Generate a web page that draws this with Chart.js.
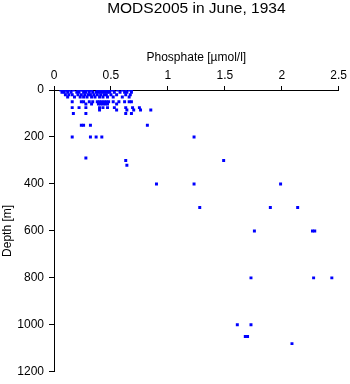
<!DOCTYPE html>
<html>
<head>
<meta charset="utf-8">
<script src="https://cdn.jsdelivr.net/npm/chart.js@4"></script>
<style>
  html, body { margin: 0; padding: 0; background: #fff; }
  #wrap { width: 350px; height: 384px; }
</style>
</head>
<body>
<div id="wrap"><canvas id="chart0" width="350" height="384"></canvas></div>
<script>
// depth levels [m] and the phosphate values [umol/l] read at each level
let depthLevels = [0, 10, 20, 30, 50, 60, 75, 85, 100, 150, 200, 290, 300, 320, 400, 500, 600, 800, 1000, 1050, 1080];
let phosphateByLevel = [
  [0.06, 0.08, 0.10, 0.12, 0.14, 0.17, 0.21, 0.23, 0.25, 0.27, 0.29, 0.31, 0.33, 0.38, 0.40, 0.42, 0.44, 0.46, 0.48, 0.50, 0.52, 0.56, 0.60, 0.63, 0.66, 0.68],
  [0.07, 0.09, 0.12, 0.15, 0.20, 0.22, 0.26, 0.28, 0.31, 0.34, 0.37, 0.39, 0.41, 0.43, 0.45, 0.47, 0.49, 0.53, 0.58, 0.62, 0.64, 0.68],
  [0.10, 0.13, 0.16, 0.21, 0.24, 0.27, 0.30, 0.32, 0.35, 0.38, 0.41, 0.44, 0.46, 0.50, 0.55, 0.63, 0.67],
  [0.12, 0.18, 0.23, 0.26, 0.29, 0.33, 0.36, 0.40, 0.43, 0.47, 0.52, 0.60, 0.66],
  [0.16, 0.24, 0.26, 0.31, 0.34, 0.38, 0.40, 0.42, 0.44, 0.46, 0.48, 0.52, 0.57, 0.62, 0.66, 0.68],
  [0.28, 0.33, 0.39, 0.41, 0.43, 0.45, 0.47, 0.55],
  [0.16, 0.22, 0.28, 0.40, 0.43, 0.47, 0.53, 0.63, 0.69, 0.75],
  [0.40, 0.55, 0.64, 0.70, 0.76, 0.85],
  [0.17, 0.28, 0.63, 0.68],
  [0.24, 0.26, 0.32, 0.82],
  [0.16, 0.32, 0.37, 0.42, 1.23],
  [0.28],
  [0.63, 1.49],
  [0.64],
  [0.90, 1.23, 1.99],
  [1.28, 1.90, 2.14],
  [1.76, 2.27, 2.29],
  [1.73, 2.28, 2.44],
  [1.61, 1.73],
  [1.68, 1.70],
  [2.09]
];
let xTicks = ["0", "0.5", "1", "1.5", "2", "2.5"];
let yTicks = ["0", "200", "400", "600", "800", "1000", "1200"];

let points = [];
depthLevels.forEach(function(d, i) {
  phosphateByLevel[i].forEach(function(p) {
    points.push({ x: p, y: d });
  });
});

let font = "'Liberation Sans', Arial, sans-serif";

// title centred over the plot area
let titlePlugin = {
  id: "plotTitle",
  afterDraw: function(chart) {
    let c = chart.ctx;
    let a = chart.chartArea;
    c.save();
    c.fillStyle = "#000";
    c.font = "15.5px " + font;
    c.textAlign = "center";
    c.textBaseline = "middle";
    c.fillText("MODS2005 in June, 1934", (a.left + a.right) / 2, 9);
    c.restore();
  }
};

let ctx = document.getElementById("chart0").getContext("2d");
let chart = new Chart(ctx, {
  type: "scatter",
  data: {
    datasets: [{
      data: points,
      pointStyle: "rect",
      pointRadius: 2.1,
      pointBorderWidth: 0,
      backgroundColor: "#0000ff",
      borderColor: "#0000ff"
    }]
  },
  plugins: [titlePlugin],
  options: {
    responsive: false,
    animation: false,
    layout: { padding: { top: 50, right: 11, bottom: 9, left: 0 } },
    plugins: { legend: { display: false }, tooltip: { enabled: false } },
    scales: {
      x: {
        type: "linear",
        position: "top",
        min: 0,
        max: 2.5,
        afterFit: function(s) { s.height = 40; },
        title: { display: true, text: "Phosphate [µmol/l]", color: "#000", font: { family: font, size: 12 }, padding: { top: 0, bottom: 2 } },
        ticks: {
          stepSize: 0.5,
          color: "#000",
          font: { family: font, size: 12 },
          padding: 3,
          maxRotation: 0,
          callback: function(v) { return xTicks.find(function(t) { return Number(t) === v; }); }
        },
        grid: { drawOnChartArea: false, drawTicks: true, tickLength: 4, color: "#000" },
        border: { display: true, color: "#000", width: 1 }
      },
      y: {
        type: "linear",
        reverse: true,
        min: 0,
        max: 1200,
        afterFit: function(s) { s.width = 54; },
        title: { display: true, text: "Depth [m]", color: "#000", font: { family: font, size: 12 }, padding: { top: 0, bottom: 6 } },
        ticks: {
          stepSize: 200,
          color: "#000",
          font: { family: font, size: 12 },
          padding: 5,
          callback: function(v) { return yTicks.find(function(t) { return Number(t) === v; }); }
        },
        grid: { drawOnChartArea: false, drawTicks: true, tickLength: 5, color: "#000" },
        border: { display: true, color: "#000", width: 1 }
      }
    }
  }
});
</script>
</body>
</html>
